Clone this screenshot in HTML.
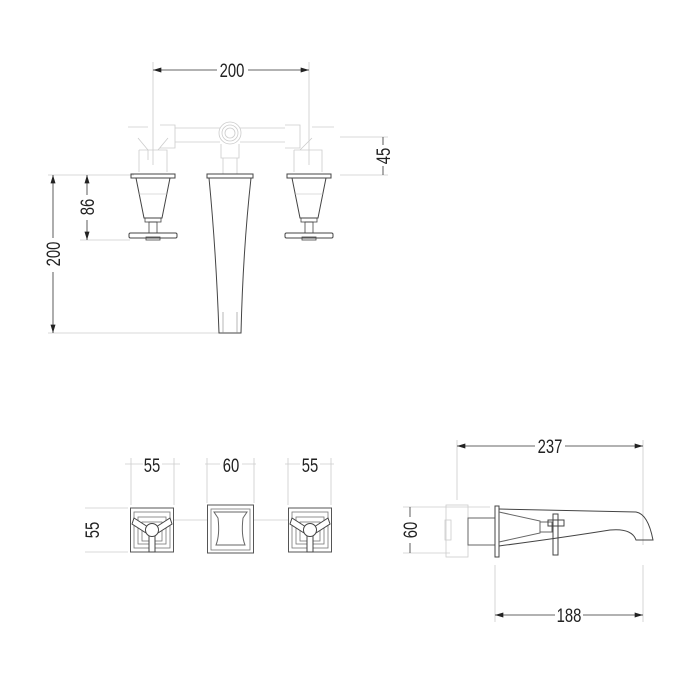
<!DOCTYPE html>
<html><head><meta charset="utf-8"><style>
html,body{margin:0;padding:0;background:#fff;width:700px;height:700px;overflow:hidden}
svg{display:block}
text{font-family:"Liberation Sans",sans-serif;font-size:19px;fill:#222}
</style></head><body>
<svg width="700" height="700" viewBox="0 0 700 700" xmlns="http://www.w3.org/2000/svg">
<defs>
<marker id="a" viewBox="0 0 10 6" refX="10" refY="3" markerWidth="10" markerHeight="5" orient="auto-start-reverse" markerUnits="userSpaceOnUse"><path d="M0,0L10,3L0,6z" fill="#222"/></marker>
<g id="hnd">
 <rect x="-22" y="0" width="44" height="4" fill="none" stroke="#444" stroke-width="1"/>
 <path d="M-17,4 L17,4 L9,44 L-9,44 Z" fill="none" stroke="#444" stroke-width="1"/>
 <line x1="-14" y1="20" x2="14" y2="20" stroke="#bbb" stroke-width="0.6"/>
 <rect x="-8" y="44" width="16" height="4" fill="none" stroke="#444" stroke-width="0.8"/>
 <rect x="-4" y="48" width="8" height="11" fill="none" stroke="#444" stroke-width="0.8"/>
 <rect x="-24" y="59" width="48" height="5" rx="1.5" fill="none" stroke="#444" stroke-width="1"/>
 <rect x="-7" y="63" width="14" height="3" fill="none" stroke="#444" stroke-width="0.8"/>
</g>
<g id="sq">
 <rect x="-21.5" y="-22" width="43" height="44" fill="none" stroke="#555" stroke-width="1"/>
 <rect x="-18" y="-18" width="36" height="36" fill="none" stroke="#777" stroke-width="0.8"/>
 <rect x="-14" y="-13" width="28" height="27" fill="none" stroke="#777" stroke-width="0.8"/>
 <rect x="-10" y="-8" width="20" height="19" fill="none" stroke="#777" stroke-width="0.8"/>
 <path d="M-4,-3 L-18,-12 L-20,-6 L-6,3" fill="#fff" stroke="#444" stroke-width="1"/>
 <path d="M4,-3 L18,-12 L20,-6 L6,3" fill="#fff" stroke="#444" stroke-width="1"/>
 <rect x="-3" y="4" width="6" height="18" fill="#fff" stroke="#444" stroke-width="1"/>
 <circle cx="0" cy="0" r="6.5" fill="#fff" stroke="#444" stroke-width="1"/>
</g>
</defs>

<g stroke="#ccc" stroke-width="0.8" fill="none">
 <line x1="153" y1="62" x2="153" y2="165"/>
 <line x1="309" y1="62" x2="309" y2="165"/>
 <line x1="48" y1="175" x2="134" y2="175"/>
 <line x1="80" y1="240" x2="130" y2="240"/>
 <line x1="48" y1="333" x2="220" y2="333"/>
 <line x1="340" y1="137" x2="388" y2="137"/>
 <line x1="340" y1="175" x2="388" y2="175"/>
 <path d="M128,127 H148 M160,125 H175 V148 H160 M175,128 H220 M175,142 H220 M240,128 H285 M240,142 H285 M285,125 H300 V148 H285 M312,127 H334"/>
 <path d="M138,138 L148,150 V160 M168,138 L158,150 M139,150 H167 V172 M139,150 V172"/>
 <path d="M294,150 H322 V172 M294,150 V172 M300,150 L312,138"/>
 <circle cx="230" cy="133" r="11"/><circle cx="230" cy="133" r="8"/><circle cx="230" cy="133" r="5"/>
 <path d="M221,144 V158 H239 V144 M223,158 V174 M237,158 V174"/>
 <line x1="131" y1="458" x2="131" y2="505"/><line x1="174" y1="458" x2="174" y2="505"/>
 <line x1="207" y1="458" x2="207" y2="503"/><line x1="254" y1="458" x2="254" y2="503"/>
 <line x1="288" y1="458" x2="288" y2="505"/><line x1="331" y1="458" x2="331" y2="505"/>
 <line x1="85" y1="508" x2="128" y2="508"/><line x1="85" y1="552" x2="128" y2="552"/>
 <line x1="174" y1="520" x2="207" y2="520"/><line x1="254" y1="520" x2="288" y2="520"/>
 <line x1="457" y1="440" x2="457" y2="500"/><line x1="643" y1="440" x2="643" y2="545"/>
 <line x1="495" y1="565" x2="495" y2="622"/><line x1="643" y1="565" x2="643" y2="622"/>
 <line x1="403" y1="507" x2="490" y2="507"/><line x1="403" y1="553" x2="450" y2="553"/>
 <rect x="446" y="505" width="22" height="52"/>
 <rect x="445" y="520" width="6" height="20"/>
 <path d="M125,464 H143 M162,464 H180 M205,464 H220 M242,464 H256 M285,464 H300 M320,464 H334"/>
</g>

<g stroke="#333" stroke-width="0.8" fill="none">
 <line x1="153" y1="70" x2="217" y2="70" marker-start="url(#a)"/>
 <line x1="248" y1="70" x2="309" y2="70" marker-end="url(#a)"/>
 <line x1="53" y1="175" x2="53" y2="238" marker-start="url(#a)"/>
 <line x1="53" y1="272" x2="53" y2="333" marker-end="url(#a)"/>
 <line x1="87" y1="175" x2="87" y2="195" marker-start="url(#a)"/>
 <line x1="87" y1="220" x2="87" y2="240" marker-end="url(#a)"/>
 <line x1="383" y1="137" x2="383" y2="145"/><line x1="383" y1="166" x2="383" y2="175"/>
 <line x1="457" y1="446" x2="535" y2="446" marker-start="url(#a)"/>
 <line x1="565" y1="446" x2="643" y2="446" marker-end="url(#a)"/>
 <line x1="495" y1="615" x2="555" y2="615" marker-start="url(#a)"/>
 <line x1="583" y1="615" x2="643" y2="615" marker-end="url(#a)"/>
 <line x1="410" y1="507" x2="410" y2="517"/><line x1="410" y1="543" x2="410" y2="553"/>
</g>
<g text-anchor="middle">
<text transform="translate(232,77) scale(0.78,1)">200</text>
<text transform="translate(550,453) scale(0.78,1)">237</text>
<text transform="translate(569,622) scale(0.78,1)">188</text>
<text transform="translate(152,472) scale(0.78,1)">55</text>
<text transform="translate(231,472) scale(0.78,1)">60</text>
<text transform="translate(310,472) scale(0.78,1)">55</text>
<text transform="translate(60,254) rotate(-90) scale(0.78,1)">200</text>
<text transform="translate(94,207) rotate(-90) scale(0.78,1)">86</text>
<text transform="translate(390,156) rotate(-90) scale(0.78,1)">45</text>
<text transform="translate(99,530) rotate(-90) scale(0.78,1)">55</text>
<text transform="translate(417,530) rotate(-90) scale(0.78,1)">60</text>
</g>

<use href="#hnd" x="153" y="174"/>
<use href="#hnd" x="309" y="174"/>
<rect x="207" y="174" width="46" height="4" fill="none" stroke="#444" stroke-width="1"/>
<path d="M209,178 Q216,250 219,333 H241 Q243,250 251,178" fill="none" stroke="#444" stroke-width="1"/>
<path d="M223,312 V333 M237,312 V333" stroke="#888" stroke-width="0.6"/>

<use href="#sq" x="152" y="530"/>
<use href="#sq" x="310" y="530"/>
<g fill="none" stroke="#555" stroke-width="1">
 <rect x="207.5" y="505" width="46" height="48"/>
 <rect x="211" y="509" width="39" height="41" stroke="#777" stroke-width="0.8"/>
 <path d="M214,512 H247 L243,518 Q241,535 245,545 H216 Q220,535 218,518 Z" stroke="#666"/>
</g>

<g fill="none" stroke="#444" stroke-width="1">
 <rect x="468" y="518" width="27" height="27" stroke="#666"/>
 <rect x="495" y="506" width="4" height="51"/>
 <path d="M499,509 L636,512 Q648,514 653,540 H636 Q632,528 610,530 Q560,538 499,546"/>
 <path d="M499,512 L540,521 V533 L499,542" stroke="#666"/>
 <rect x="540" y="522" width="12" height="10" stroke="#666"/>
 <rect x="553" y="514" width="5" height="41"/>
 <path d="M548,520 H564 V526 H548 Z"/>
</g>
</svg>
</body></html>
